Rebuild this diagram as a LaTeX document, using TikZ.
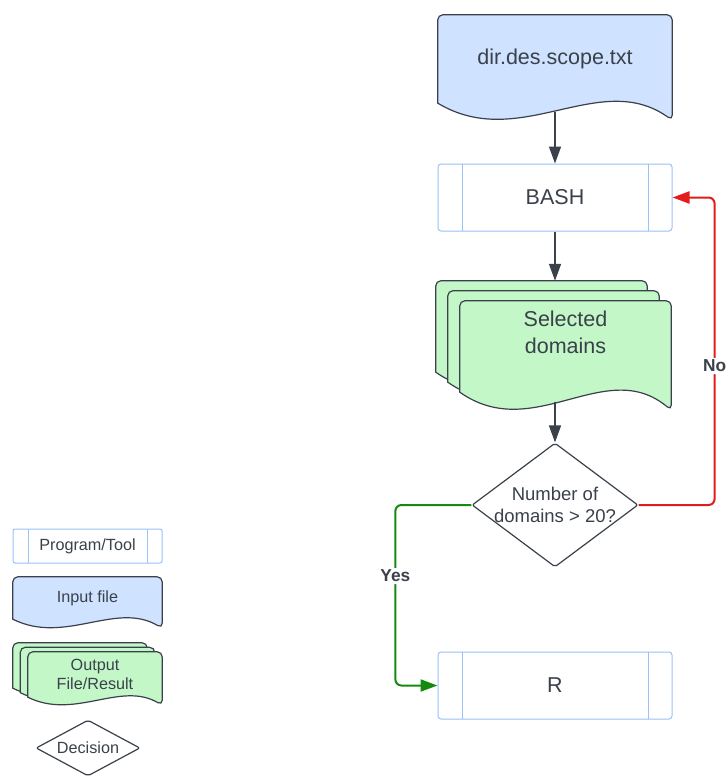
\documentclass[tikz,border=0pt]{standalone}
\usepackage{fontspec}
\setmainfont{Liberation Sans}
\usetikzlibrary{shapes.geometric,arrows.meta,calc}

\definecolor{ink}{HTML}{3A414A}
\definecolor{progblue}{HTML}{99C2F7}
\definecolor{fileblue}{HTML}{CFE2FF}
\definecolor{filegreen}{HTML}{C3F7C8}
\definecolor{loopred}{HTML}{E31B1B}
\definecolor{yesgreen}{HTML}{148A0F}

% file outline round a body node: flat top, wavy bottom (#3 = wave depth)
\newcommand{\docshape}[3]{%
  \draw[ink, line width=1.2pt, fill=#2]
    ($(#1.south east)+(0,#3)$)
    .. controls ($(#1.south west)!0.69!(#1.south east)+(0,-2.06*#3)$)
            and ($(#1.south west)!0.35!(#1.south east)+(0,2.9*#3)$)
    .. (#1.south west) coordinate[pos=0.53] (#1-tail)
    [rounded corners=5pt] -- (#1.north west) -- (#1.north east) -- cycle;
}

\begin{document}
\begin{tikzpicture}[x=1pt, y=-1pt, >={Triangle[length=17pt,width=12pt]},
  program/.style={draw=progblue, fill=white, line width=1pt, rounded corners=3pt,
    text=ink, minimum width=234pt, minimum height=67pt, font=\fontsize{21.5}{27}\selectfont,
    path picture={\draw[progblue, line width=1pt]
      ([xshift=#1]path picture bounding box.north west) -- ([xshift=#1]path picture bounding box.south west)
      ([xshift=-#1]path picture bounding box.north east) -- ([xshift=-#1]path picture bounding box.south east);}},
  docbody/.style={inner sep=0pt},
  filetext/.style={text=ink, align=center, font=\fontsize{21.5}{27}\selectfont},
  keytext/.style={text=ink, align=center, font=\fontsize{16.2}{19}\selectfont},
  decision/.style={diamond, draw=ink, fill=white, line width=1.2pt, inner sep=-3pt,
    rounded corners=2pt, text=ink, align=center},
  flow/.style={ink, line width=1.5pt},
  nopath/.style={loopred, line width=2pt, rounded corners=6pt},
  yespath/.style={yesgreen, line width=2pt, rounded corners=6pt},
  lbl/.style={fill=white, text=ink, inner sep=2pt, font=\bfseries\fontsize{17.3}{20}\selectfont}]

\useasboundingbox (0,0) rectangle (727,776);

% main chain
\node[docbody, minimum width=234pt, minimum height=88pt] (input) at (555,59) {};
\docshape{input}{fileblue}{17}
\node[filetext] (input-text) at (input) {dir.des.scope.txt};

\node[program=24pt] (bash) at (555,197.5) {BASH};

\node[docbody, minimum width=211pt, minimum height=91pt] (sel3) at (541.5,326.5) {};
\docshape{sel3}{filegreen}{18}
\node[docbody, minimum width=211pt, minimum height=91pt] (sel2) at (553.5,336.5) {};
\docshape{sel2}{filegreen}{18}
\node[docbody, minimum width=211pt, minimum height=91pt] (sel) at (565.5,346.5) {};
\docshape{sel}{filegreen}{18}
\node[filetext] (sel-text) at ([yshift=14pt]sel.center) {Selected\\domains};

\node[decision, aspect=1.34, minimum width=166pt, minimum height=124pt,
  font=\fontsize{18.5}{22}\selectfont] (dec) at (555,505) {Number of\\domains > 20?};

\node[program=24pt] (R) at (555,685.5) {R};

\draw[flow, ->] (bash |- input-tail) -- (bash);
\draw[flow, ->] (bash) -- (bash |- sel3.north);
\draw[flow, ->] (dec |- sel-tail) -- (dec);
\draw[nopath, ->] (dec.east) -- ++(76,0) |- node[lbl, pos=0.226] (no) {No} (bash.east);
\draw[yespath, ->] (dec.west) -- ++(-76,0) |- node[lbl, pos=0.197] (yes) {Yes} (R.west);

% key
\node[program=15pt, minimum width=149pt, minimum height=34pt, rounded corners=2pt,
  font=\fontsize{16.2}{19}\selectfont] (key-prog) at (87.5,546) {Program/Tool};

\node[docbody, minimum width=149pt, minimum height=42pt] (key-input) at (87.5,598) {};
\docshape{key-input}{fileblue}{9}
\node[keytext] (key-input-text) at (key-input) {Input file};

\node[docbody, minimum width=134pt, minimum height=45pt] (key-out3) at (80,665.5) {};
\docshape{key-out3}{filegreen}{8}
\node[docbody, minimum width=134pt, minimum height=45pt] (key-out2) at (87.5,670) {};
\docshape{key-out2}{filegreen}{8}
\node[docbody, minimum width=134pt, minimum height=45pt] (key-out) at (95,674.5) {};
\docshape{key-out}{filegreen}{8}
\node[keytext] (key-out-text) at (key-out) {Output\\File/Result};

\node[decision, aspect=1.86, minimum width=104pt, minimum height=56pt,
  font=\fontsize{16.2}{19}\selectfont] (key-dec) at (88,748) {Decision};

\end{tikzpicture}
\end{document}
